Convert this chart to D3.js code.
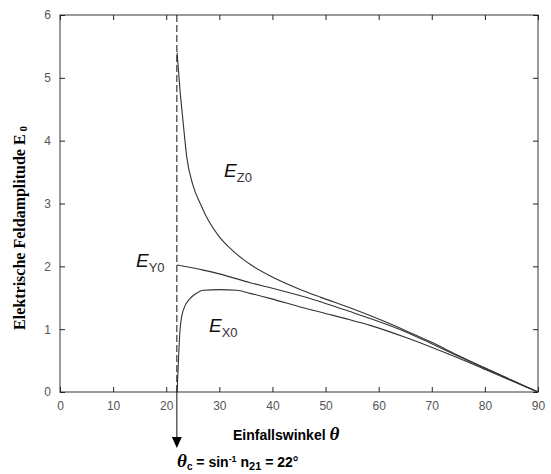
<!DOCTYPE html>
<html>
    <head>
        <script src="https://d3js.org/d3.v7.min.js" charset="utf-8"></script>
        <style>
            body { margin: 0; background: #fff; }
        </style>
    </head>
    <body>
        <svg id="chart" width="551" height="474"></svg>
    </body>
    <script>
        // angles (deg) and amplitudes
        var angleZ = [22.05, 22.6, 23.2, 23.85, 25, 26.4, 28, 30, 32, 34.5, 36, 39.5, 45, 49, 54.6, 60, 65, 70, 75, 80, 85, 90];
        var ampZ   = [5.4, 4.8, 4.28, 3.75, 3.3, 3.0, 2.72, 2.47, 2.29, 2.11, 2.02, 1.85, 1.64, 1.51, 1.34, 1.16, 0.98, 0.79, 0.58, 0.38, 0.19, 0];

        var angleY = [22.05, 27, 30, 35.8, 40, 45.8, 50, 54.6, 58.4, 65, 69.7, 75, 80, 85, 90];
        var ampY   = [2.02, 1.94, 1.88, 1.74, 1.65, 1.52, 1.41, 1.28, 1.17, 0.96, 0.78, 0.57, 0.38, 0.19, 0];

        var angleX = [22.05, 22.3, 22.6, 23.2, 24.5, 25.5, 27, 30, 33.3, 35.8, 39.5, 45.8, 50, 54.6, 58.4, 65, 69.7, 75, 80, 85, 90];
        var ampX   = [0, 0.5, 0.99, 1.3, 1.49, 1.56, 1.62, 1.63, 1.62, 1.57, 1.49, 1.34, 1.25, 1.15, 1.06, 0.87, 0.72, 0.54, 0.36, 0.18, 0];

        var xTicks = [0, 10, 20, 30, 40, 50, 60, 70, 80, 90];
        var yTicks = [0, 1, 2, 3, 4, 5, 6];
        var criticalAngle = 22;

        var svg = d3.select('#chart'),
            pLeft = 60, pRight = 538, pTop = 15, pBottom = 392; // plot box (note: "top" is taken by window.top)

        var x = d3.scaleLinear().domain([0, 90]).range([pLeft, pRight]);
        var y = d3.scaleLinear().domain([0, 6]).range([pBottom, pTop]);

        // frame with inward ticks on all sides (matlab style)
        svg.append('rect')
            .attr('x', pLeft).attr('y', pTop)
            .attr('width', pRight - pLeft).attr('height', pBottom - pTop)
            .attr('fill', 'none').attr('stroke', '#7a7a7a').attr('stroke-width', 1.5);

        var fmt = d3.format('d');
        var sideAxes = [
            d3.axisBottom(x).tickValues(xTicks).tickFormat(fmt).tickSizeInner(-5).tickSizeOuter(0).tickPadding(9),
            d3.axisTop(x).tickValues(xTicks).tickSizeInner(-5).tickSizeOuter(0).tickFormat(''),
            d3.axisLeft(y).tickValues(yTicks).tickFormat(fmt).tickSizeInner(-5).tickSizeOuter(0).tickPadding(9),
            d3.axisRight(y).tickValues(yTicks).tickSizeInner(-5).tickSizeOuter(0).tickFormat('')
        ];
        var shifts = ['translate(0,' + pBottom + ')', 'translate(0,' + pTop + ')',
                      'translate(' + pLeft + ',0)', 'translate(' + pRight + ',0)'];
        sideAxes.forEach(function(ax, i) {
            var g = svg.append('g').attr('transform', shifts[i]).call(ax);
            g.select('.domain').remove();
            g.selectAll('line').attr('stroke', '#222');
            g.selectAll('text')
                .attr('fill', '#555')
                .style('font-family', 'Liberation Sans, Arial, sans-serif')
                .style('font-size', '12px');
        });

        // curves
        var line = d3.line()
            .x(function(d) { return x(d[0]); })
            .y(function(d) { return y(d[1]); })
            .curve(d3.curveMonotoneX);

        [[angleZ, ampZ], [angleY, ampY], [angleX, ampX]].forEach(function(s) {
            svg.append('path')
                .datum(d3.zip(s[0], s[1]))
                .attr('d', line)
                .attr('fill', 'none')
                .attr('stroke', '#333')
                .attr('stroke-width', 1.1);
        });

        // critical angle marker: dashed inside the plot, solid below with arrow
        var xc = x(criticalAngle);
        svg.append('line')
            .attr('x1', xc).attr('x2', xc).attr('y1', pTop).attr('y2', pBottom)
            .attr('stroke', '#111').attr('stroke-dasharray', '7,3');
        svg.append('line')
            .attr('x1', xc).attr('x2', xc).attr('y1', pBottom).attr('y2', 438)
            .attr('stroke', '#111');
        svg.append('path')
            .attr('d', 'M' + (xc - 5) + ',437 L' + (xc + 5) + ',437 L' + xc + ',448 Z')
            .attr('fill', '#000');

        // curve labels
        function curveLabel(px, py, sub) {
            var t = svg.append('text')
                .attr('x', px).attr('y', py)
                .style('font-family', 'Liberation Sans, Arial, sans-serif')
                .attr('fill', '#111');
            t.append('tspan').text('E').style('font-style', 'italic').style('font-size', '19px');
            t.append('tspan').text(sub).attr('dy', 5).style('font-size', '13px').attr('fill', '#333');
        }
        curveLabel(224, 177, 'Z0');
        curveLabel(136, 267, 'Y0');
        curveLabel(209, 332, 'X0');

        // y axis title
        var yt = svg.append('text')
            .attr('transform', 'translate(25,228) rotate(-90)')
            .attr('text-anchor', 'middle')
            .style('font-family', 'Liberation Serif, Times New Roman, serif')
            .style('font-weight', 'bold')
            .style('font-size', '16px');
        yt.append('tspan').text('Elektrische Feldamplitude E');
        yt.append('tspan').text(' 0').attr('dy', 2).style('font-size', '11px');

        // x axis title
        var xt = svg.append('text')
            .attr('x', 233).attr('y', 440)
            .style('font-family', 'Liberation Sans, Arial, sans-serif')
            .style('font-weight', 'bold')
            .style('font-size', '14px');
        xt.append('tspan').text('Einfallswinkel ');
        xt.append('tspan').text('\u03b8')
            .style('font-family', 'Liberation Serif, Times New Roman, serif')
            .style('font-style', 'italic').style('font-size', '19px');

        // critical angle annotation
        var ct = svg.append('text')
            .attr('x', 177).attr('y', 467)
            .style('font-family', 'Liberation Sans, Arial, sans-serif')
            .style('font-weight', 'bold')
            .style('font-size', '14px');
        ct.append('tspan').text('\u03b8')
            .style('font-family', 'Liberation Serif, Times New Roman, serif')
            .style('font-style', 'italic').style('font-size', '19px');
        ct.append('tspan').text('c').attr('dy', 3).style('font-size', '10px');
        ct.append('tspan').text(' = sin').attr('dy', -3);
        ct.append('tspan').text('-1').attr('dy', -5).style('font-size', '9px');
        ct.append('tspan').text(' n').attr('dy', 5);
        ct.append('tspan').text('21').attr('dy', 3).style('font-size', '11px');
        ct.append('tspan').text(' = 22\u00b0').attr('dy', -3);
    </script>
</html>
